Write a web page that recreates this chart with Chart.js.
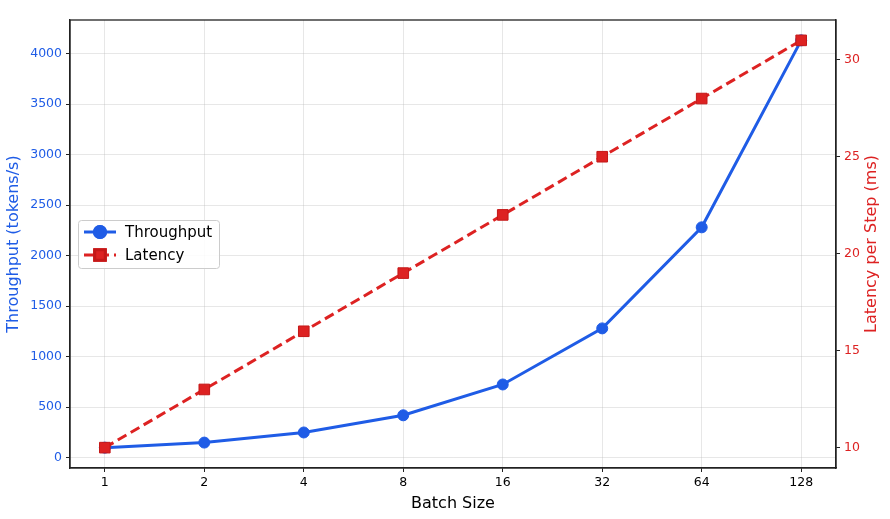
<!DOCTYPE html>
<html>
<head>
<meta charset="utf-8">
<script src="https://cdn.jsdelivr.net/npm/chart.js@4.4.1/dist/chart.umd.min.js"></script>
<style>
  html, body { margin: 0; padding: 0; background: #fff; }
  #wrap { width: 890px; height: 519px; }
</style>
</head>
<body>
<div id="wrap"><canvas id="perfChart" width="890" height="519"></canvas></div>
<script>
// data
const batchSizes = ['1', '2', '4', '8', '16', '32', '64', '128'];
const throughput = [100, 150, 250, 420, 725, 1280, 2280, 4130];
const latency = [10, 13, 16, 19, 22, 25, 28, 31];
const throughputTicks = [0, 500, 1000, 1500, 2000, 2500, 3000, 3500, 4000];
const latencyTicks = [10, 15, 20, 25, 30];

const BLUE = '#1f5ce6';
const RED = '#dd2222';
const FONT = "'DejaVu Sans', sans-serif";

// matplotlib style 5% margins
function padRange(arr) {
  const lo = Math.min(...arr), hi = Math.max(...arr);
  const pad = (hi - lo) * 0.05;
  return { min: lo - pad, max: hi + pad };
}
const tRange = padRange(throughput);
const lRange = padRange(latency);
const xRange = padRange(batchSizes.map((b, i) => i));

// frame round the plot area (top spine mostly)
const framePlugin = {
  id: 'frame',
  afterDatasetsDraw(chart) {
    const { ctx, chartArea: a } = chart;
    ctx.save();
    ctx.strokeStyle = '#222';
    ctx.lineWidth = 1.3;
    ctx.strokeRect(a.left, a.top, a.right - a.left, a.bottom - a.top);
    ctx.restore();
  }
};

// right axis title reads bottom to top, as in matplotlib
const rightTitle = {
  id: 'rightTitle',
  afterDraw(chart) {
    const { ctx, chartArea: a } = chart;
    ctx.save();
    ctx.translate(872, (a.top + a.bottom) / 2);
    ctx.rotate(-Math.PI / 2);
    ctx.fillStyle = RED;
    ctx.font = '16px ' + FONT;
    ctx.textAlign = 'center';
    ctx.textBaseline = 'middle';
    ctx.fillText('Latency per Step (ms)', 0, 0);
    ctx.restore();
  }
};

// legend drawn inside the plot, like matplotlib's
const innerLegend = {
  id: 'innerLegend',
  afterDraw(chart) {
    const { ctx } = chart;
    const x = 78, y = 220, w = 141, h = 48;
    ctx.save();
    ctx.fillStyle = 'rgba(255,255,255,0.85)';
    ctx.strokeStyle = '#cccccc';
    ctx.lineWidth = 1;
    ctx.beginPath();
    ctx.roundRect(x + 0.5, y + 0.5, w, h, 3);
    ctx.fill();
    ctx.stroke();
    chart.data.datasets.forEach((ds, i) => {
      const cy = y + 12 + i * 23;
      ctx.strokeStyle = ds.borderColor;
      ctx.lineWidth = ds.borderWidth;
      ctx.setLineDash(ds.borderDash || []);
      ctx.beginPath();
      ctx.moveTo(x + 6, cy);
      ctx.lineTo(x + 38, cy);
      ctx.stroke();
      ctx.setLineDash([]);
      Chart.helpers.drawPoint(ctx, {
        pointStyle: ds.pointStyle,
        radius: ds.pointRadius,
        borderWidth: 1
      }, x + 22, cy);
      ctx.fillStyle = ds.backgroundColor;
      ctx.strokeStyle = ds.pointBorderColor;
      ctx.fill();
      ctx.stroke();
      ctx.fillStyle = '#000';
      ctx.font = '15px ' + FONT;
      ctx.textBaseline = 'middle';
      ctx.fillText(ds.label, x + 47, cy + 1);
    });
    ctx.restore();
  }
};

new Chart(document.getElementById('perfChart'), {
  type: 'line',
  data: {
    datasets: [
      {
        label: 'Throughput',
        data: throughput.map((v, i) => ({ x: i, y: v })),
        yAxisID: 'yT',
        borderColor: BLUE,
        backgroundColor: BLUE,
        pointBorderColor: BLUE,
        borderWidth: 3,
        pointStyle: 'circle',
        pointRadius: 5.5,
        pointBorderWidth: 1,
        order: 1
      },
      {
        label: 'Latency',
        data: latency.map((v, i) => ({ x: i, y: v })),
        yAxisID: 'yL',
        borderColor: RED,
        backgroundColor: RED,
        pointBorderColor: '#c41818',
        borderWidth: 3,
        borderDash: [10, 5],
        pointStyle: 'rect',
        pointRadius: 7.5,
        pointBorderWidth: 1,
        order: 0
      }
    ]
  },
  options: {
    responsive: false,
    animation: false,
    layout: { padding: { top: 20, left: 0, right: 0, bottom: 0 } },
    plugins: {
      legend: { display: false },
      tooltip: { enabled: false }
    },
    scales: {
      x: {
        type: 'linear',
        min: xRange.min,
        max: xRange.max,
        afterBuildTicks: axis => { axis.ticks = batchSizes.map((b, i) => ({ value: i })); },
        afterFit: axis => { axis.height = 51; },
        ticks: {
          callback: v => batchSizes[v],
          color: '#000',
          font: { family: FONT, size: 12.5 },
          padding: 3,
          maxRotation: 0
        },
        grid: { color: 'rgba(176,176,176,0.3)', tickColor: '#222', tickLength: 4 },
        border: { color: '#222', width: 1.3 },
        title: {
          display: true,
          text: 'Batch Size',
          color: '#000',
          font: { family: FONT, size: 16 },
          padding: { top: 0, bottom: 6 }
        }
      },
      yT: {
        position: 'left',
        min: tRange.min,
        max: tRange.max,
        afterBuildTicks: axis => { axis.ticks = throughputTicks.map(v => ({ value: v })); },
        afterFit: axis => { axis.width = 70; },
        ticks: {
          callback: v => String(v),
          color: BLUE,
          font: { family: FONT, size: 12.5 },
          padding: 4
        },
        grid: { color: 'rgba(176,176,176,0.3)', tickColor: '#222', tickLength: 4 },
        border: { color: '#222', width: 1.3 },
        title: {
          display: true,
          text: 'Throughput (tokens/s)',
          color: BLUE,
          font: { family: FONT, size: 16 },
          padding: { top: 4, bottom: 0 }
        }
      },
      yL: {
        position: 'right',
        min: lRange.min,
        max: lRange.max,
        afterBuildTicks: axis => { axis.ticks = latencyTicks.map(v => ({ value: v })); },
        afterFit: axis => { axis.width = 54; },
        ticks: {
          callback: v => String(v),
          color: RED,
          font: { family: FONT, size: 12.5 },
          padding: 4
        },
        grid: { drawOnChartArea: false, tickColor: '#222', tickLength: 4 },
        border: { color: '#222', width: 1.3 }
      }
    }
  },
  plugins: [framePlugin, rightTitle, innerLegend]
});
</script>
</body>
</html>
